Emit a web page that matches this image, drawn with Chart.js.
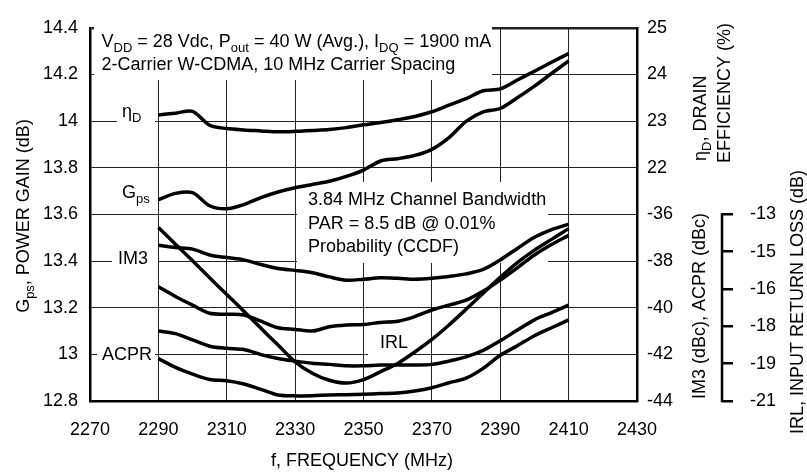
<!DOCTYPE html>
<html>
<head>
<meta charset="utf-8">
<script src="https://cdn.jsdelivr.net/npm/chart.js@4.4.0/dist/chart.umd.min.js"></script>
<style>
  html, body { margin: 0; padding: 0; background: #fff; }
  canvas { display: block; }
</style>
</head>
<body>
<canvas id="chart" width="807" height="476"></canvas>
<script>
// frequency points, MHz
const freqs = [2290, 2295, 2300, 2305, 2310, 2315, 2320, 2325, 2330, 2335, 2340, 2345, 2350,
               2355, 2360, 2365, 2370, 2375, 2380, 2385, 2390, 2395, 2400, 2405, 2410];

// drain efficiency (%)
const drainEff = [23.13, 23.17, 23.21, 22.91, 22.84, 22.81, 22.79, 22.77, 22.78, 22.80, 22.82, 22.86, 22.92,
                  22.97, 23.03, 23.10, 23.20, 23.34, 23.48, 23.65, 23.69, 23.88, 24.07, 24.26, 24.45];
// power gain (dB)
const powerGain = [13.663, 13.690, 13.693, 13.637, 13.624, 13.642, 13.672, 13.696, 13.714, 13.728, 13.742, 13.763, 13.790,
                   13.829, 13.839, 13.853, 13.879, 13.929, 13.999, 14.040, 14.054, 14.100, 14.150, 14.204, 14.258];
// IM3 (dBc), two curves
const im3Upper = [-37.32, -37.42, -37.49, -37.74, -37.85, -37.95, -38.15, -38.32, -38.40, -38.50, -38.68, -38.82, -38.78,
                  -38.72, -38.74, -38.78, -38.74, -38.66, -38.55, -38.36, -37.95, -37.46, -36.98, -36.65, -36.42];
const im3Lower = [-39.10, -39.52, -39.89, -40.24, -40.28, -40.31, -40.58, -40.86, -40.93, -41.00, -40.82, -40.74, -40.72,
                  -40.63, -40.58, -40.38, -40.10, -39.89, -39.68, -39.29, -38.82, -38.29, -37.74, -37.29, -36.90];
// ACPR (dBc), two curves
const acprUpper = [-41.00, -41.11, -41.38, -41.65, -41.74, -41.79, -42.01, -42.18, -42.29, -42.38, -42.43, -42.49, -42.49,
                   -42.46, -42.46, -42.46, -42.43, -42.29, -42.11, -41.83, -41.42, -40.96, -40.52, -40.21, -39.89];
const acprLower = [-42.18, -42.56, -42.85, -43.08, -43.13, -43.27, -43.50, -43.74, -43.78, -43.77, -43.74, -43.73, -43.71,
                   -43.68, -43.66, -43.57, -43.43, -43.22, -43.02, -42.60, -42.04, -41.63, -41.20, -40.86, -40.52];
// input return loss (dB)
const inputReturnLoss = [-13.56, -14.28, -14.99, -15.72, -16.43, -17.15, -17.88, -18.60, -19.32, -19.81, -20.11, -20.23, -20.08,
                         -19.74, -19.39, -18.90, -18.36, -17.74, -17.07, -16.38, -15.70, -15.07, -14.53, -14.07, -13.61];

// tick labels
const xTickLabels = ['2270', '2290', '2310', '2330', '2350', '2370', '2390', '2410', '2430'];
const gainTickLabels = ['12.8', '13', '13.2', '13.4', '13.6', '13.8', '14', '14.2', '14.4'];
const rightTickLabels = ['-44', '-42', '-40', '-38', '-36', '22', '23', '24', '25'];
const irlTickValues = [-13, -14.6, -16.2, -17.8, -19.4, -21];
const irlTickLabels = ['-13', '-15', '-16', '-18', '-19', '-21'];

const FONT = "'Liberation Sans', Arial, sans-serif";
Chart.defaults.font.family = FONT;
Chart.defaults.font.size = 18;
Chart.defaults.color = '#000';

function pts(vals) {
  return freqs.map((f, i) => ({ x: f, y: vals[i] }));
}

// text with subscripts: parts = [[text, isSub], ...]
function runs(ctx, parts, x, y, size, align) {
  const big = size + 'px ' + FONT;
  const small = Math.round(size * 0.74) + 'px ' + FONT;
  let w = 0;
  parts.forEach(p => { ctx.font = p[1] ? small : big; w += ctx.measureText(p[0]).width; });
  let cx = align === 'center' ? x - w / 2 : x;
  parts.forEach(p => {
    ctx.font = p[1] ? small : big;
    ctx.fillText(p[0], cx, y + (p[1] ? size * 0.3 : 0));
    cx += ctx.measureText(p[0]).width;
  });
}

function rotated(ctx, parts, x, y, size, align) {
  ctx.save();
  ctx.translate(x, y);
  ctx.rotate(-Math.PI / 2);
  runs(ctx, parts, 0, 0, size, align);
  ctx.restore();
}

const paper = {
  id: 'paper',
  beforeDatasetsDraw(chart) {
    const ctx = chart.ctx;
    ctx.save();
    // white boxes behind the notes break the grid
    ctx.fillStyle = '#fff';
    [[94, 22, 398, 58], [297, 182, 251, 81], [117, 104, 38, 18],
     [112, 248, 46, 18], [97, 344, 58, 18], [368, 330, 45, 26]].forEach(r => ctx.fillRect(r[0], r[1], r[2], r[3]));

    ctx.fillStyle = '#000';
    ctx.textBaseline = 'alphabetic';
    ctx.textAlign = 'left';
    runs(ctx, [['V'], ['DD', 1], [' = 28 Vdc, P'], ['out', 1], [' = 40 W (Avg.), I'], ['DQ', 1], [' = 1900 mA']], 101.5, 47, 18);
    runs(ctx, [['2-Carrier W-CDMA, 10 MHz Carrier Spacing']], 101.5, 70, 18);

    runs(ctx, [['3.84 MHz Channel Bandwidth']], 308, 205, 18);
    runs(ctx, [['PAR = 8.5 dB @ 0.01%']], 308, 228.5, 18);
    runs(ctx, [['Probability (CCDF)']], 308, 252, 18);

    runs(ctx, [['η'], ['D', 1]], 122, 117, 18);
    runs(ctx, [['G'], ['ps', 1]], 122, 198, 18);
    runs(ctx, [['IM3']], 118, 263.5, 18);
    runs(ctx, [['ACPR']], 102, 359.5, 18);
    runs(ctx, [['IRL']], 380, 348, 18);
    ctx.restore();
  },
  afterDraw(chart) {
    const ctx = chart.ctx;
    const irl = chart.scales.yIrl;
    ctx.save();
    // short IRL axis line
    ctx.strokeStyle = '#000';
    ctx.lineWidth = 2.5;
    ctx.beginPath();
    ctx.moveTo(irl.left, irl.getPixelForValue(irlTickValues[0]) - 1.2);
    ctx.lineTo(irl.left, irl.getPixelForValue(irlTickValues[irlTickValues.length - 1]) + 1.2);
    ctx.stroke();

    ctx.fillStyle = '#000';
    ctx.textBaseline = 'alphabetic';
    ctx.textAlign = 'left';
    rotated(ctx, [['G'], ['ps', 1], [', POWER GAIN (dB)']], 28.5, 216, 18, 'center');
    runs(ctx, [['f, FREQUENCY (MHz)']], 362, 466, 18, 'center');
    rotated(ctx, [['η'], ['D', 1], [', DRAIN']], 706, 161, 18);
    rotated(ctx, [['EFFICIENCY (%)']], 729.5, 163, 18);
    rotated(ctx, [['IM3 (dBc), ACPR (dBc)']], 704.5, 306, 18, 'center');
    rotated(ctx, [['IRL, INPUT RETURN LOSS (dB)']], 802.5, 302, 18, 'center');
    ctx.restore();
  }
};

new Chart(document.getElementById('chart'), {
  type: 'line',
  data: {
    datasets: [
      { label: 'ηD', data: pts(drainEff), yAxisID: 'yEff' },
      { label: 'Gps', data: pts(powerGain), yAxisID: 'y' },
      { label: 'IM3 upper', data: pts(im3Upper), yAxisID: 'yDbc' },
      { label: 'IM3 lower', data: pts(im3Lower), yAxisID: 'yDbc' },
      { label: 'ACPR upper', data: pts(acprUpper), yAxisID: 'yDbc' },
      { label: 'ACPR lower', data: pts(acprLower), yAxisID: 'yDbc' },
      { label: 'IRL', data: pts(inputReturnLoss), yAxisID: 'yIrl' }
    ]
  },
  options: {
    responsive: false,
    animation: false,
    devicePixelRatio: 1,
    layout: { padding: { top: 17 } },
    plugins: { legend: { display: false }, tooltip: { enabled: false } },
    elements: {
      point: { radius: 0 },
      line: { borderWidth: 3.5, borderColor: '#000', tension: 0.3, fill: false }
    },
    scales: {
      x: {
        type: 'linear', min: 2270, max: 2430,
        ticks: { stepSize: 20, padding: 18, callback: (v, i) => xTickLabels[i] },
        grid: { color: '#222', lineWidth: 1, drawTicks: false },
        border: { color: '#000', width: 2.5 },
        afterFit: s => { s.height = 75; }
      },
      y: {
        position: 'left', min: 12.8, max: 14.4,
        ticks: { stepSize: 0.2, padding: 12, callback: (v, i) => gainTickLabels[i] },
        grid: { color: '#222', lineWidth: c => (c.index === 8 ? 2.5 : 1), drawTicks: false },
        border: { color: '#000', width: 2.5 },
        afterFit: s => { s.width = 90; }
      },
      yR: {
        position: 'right', min: 0, max: 8,
        ticks: { stepSize: 1, padding: 10, callback: v => rightTickLabels[v] },
        grid: { drawOnChartArea: false, drawTicks: false },
        border: { color: '#000', width: 2.5 },
        afterFit: s => { s.width = 85; }
      },
      yIrl: {
        position: 'right', min: -21, max: -5,
        afterBuildTicks: s => { s.ticks = irlTickValues.map(v => ({ value: v })); },
        ticks: { padding: 17, callback: (v, i) => irlTickLabels[i] },
        grid: { drawOnChartArea: false, drawTicks: true, tickLength: 11, color: '#000', lineWidth: 2.5 },
        border: { display: false },
        afterFit: s => { s.width = 85; }
      },
      yEff: { display: false, min: 17, max: 25 },
      yDbc: { display: false, min: -44, max: -28 }
    }
  },
  plugins: [paper]
});
</script>
</body>
</html>
